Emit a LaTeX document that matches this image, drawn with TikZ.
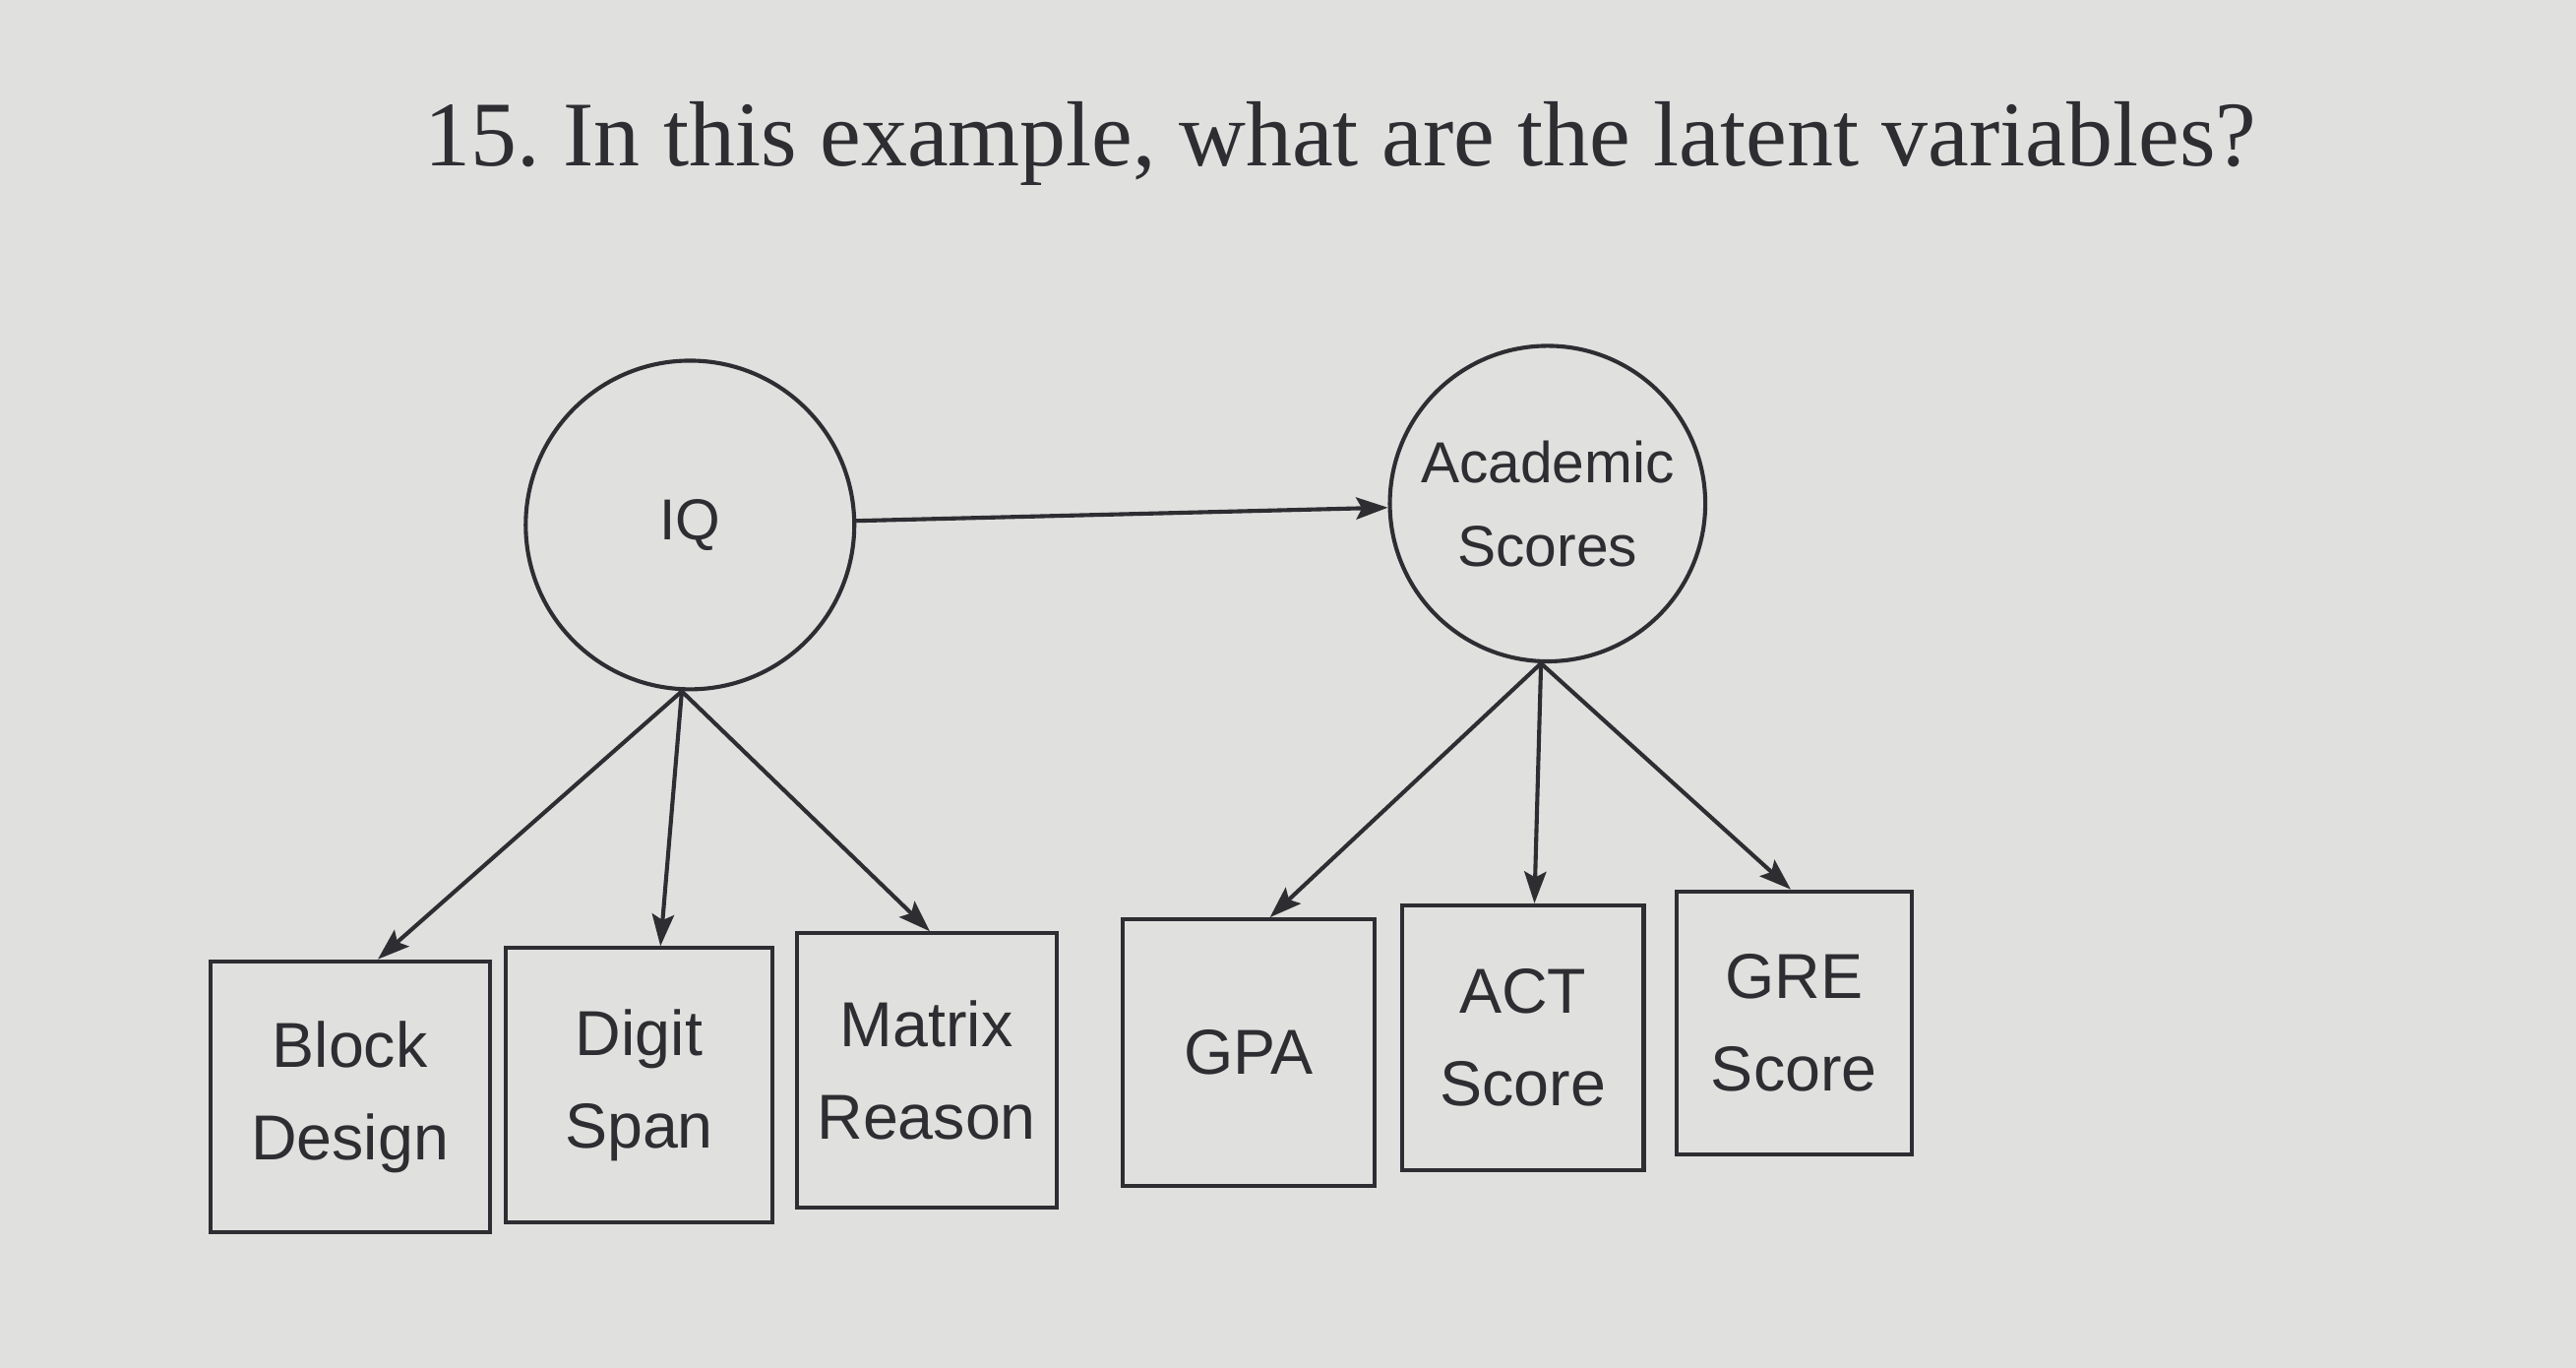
\documentclass[tikz,border=0pt]{standalone}
\usepackage{fontspec}
\setmainfont{Liberation Serif}
\setsansfont{Liberation Sans}
\usepackage{xcolor}
\usetikzlibrary{arrows.meta, positioning, shapes.geometric}
\definecolor{paper}{RGB}{224,224,222}
\definecolor{ink}{RGB}{45,45,50}
\tikzset{
        latent/.style={circle, draw=ink, line width=0.7pt, inner sep=0pt, align=center, text=ink, font=\sffamily\fontsize{10}{14.5}\selectfont},
        observed/.style={rectangle, draw=ink, line width=0.7pt, inner sep=0pt, align=center, text=ink, font=\sffamily\fontsize{11}{16}\selectfont},
        arrow/.style={-{Stealth[length=5.5pt, width=3.8pt, inset=1pt]}, line width=0.7pt, draw=ink},
    }
\frenchspacing
\begin{document}
\begin{tikzpicture}

        % === PAGE ===
        \useasboundingbox[fill=paper] (0,0) rectangle (15.68,8.325);
        \node[text=ink, font=\fontsize{16}{19}\selectfont] (question) at (8.16,7.45) {15. In this example, what are the latent variables?};

        % === LATENT VARIABLES ===
        \node[latent, minimum size=2.0cm] (iq) at (4.20,5.13) {IQ};
        \node[latent, minimum size=1.92cm] (acad) at (9.42,5.26) {Academic\\Scores};

        % === OBSERVED VARIABLES ===
        \node[observed, minimum width=1.70cm, minimum height=1.65cm] (block) at (2.13,1.65) {Block\\Design};
        \node[observed, minimum width=1.62cm, minimum height=1.67cm] (digit) at (3.89,1.72) {Digit\\Span};
        \node[observed, minimum width=1.58cm, minimum height=1.67cm] (matrix) at (5.64,1.81) {Matrix\\Reason};
        \node[observed, minimum width=1.53cm, minimum height=1.62cm] (gpa) at (7.60,1.92) {GPA};
        \node[observed, minimum width=1.47cm, minimum height=1.61cm] (act) at (9.27,2.01) {ACT\\Score};
        \node[observed, minimum width=1.43cm, minimum height=1.60cm] (gre) at (10.92,2.10) {GRE\\Score};

        % === PATHS ===
        \draw[arrow] (iq) -- (acad);
        % loadings land a little right of each box's centre, as in the print
        \draw[arrow] ([xshift=-0.5mm]iq.south) -- ([xshift=1.7mm]block.north);
        \draw[arrow] ([xshift=-0.5mm]iq.south) -- ([xshift=1.3mm]digit.north);
        \draw[arrow] ([xshift=-0.5mm]iq.south) -- ([xshift=0.2mm]matrix.north);
        \draw[arrow] ([xshift=-0.4mm]acad.south) -- ([xshift=1.3mm]gpa.north);
        \draw[arrow] ([xshift=-0.4mm]acad.south) -- ([xshift=0.7mm]act.north);
        \draw[arrow] ([xshift=-0.4mm]acad.south) -- ([xshift=-0.2mm]gre.north);

    \end{tikzpicture}
\end{document}
